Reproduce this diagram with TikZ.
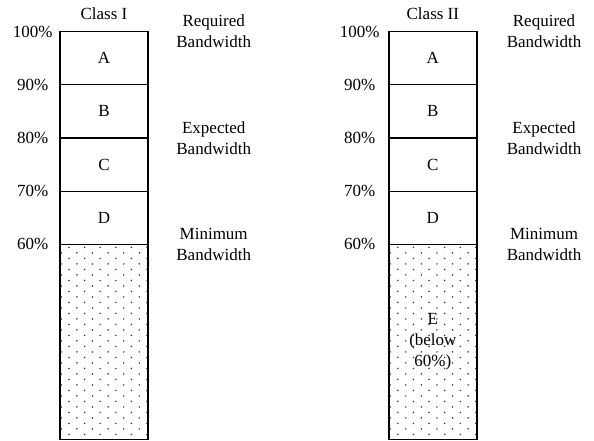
\documentclass[tikz,border=0pt]{standalone}
\usepackage{fontspec}
\setmainfont{Liberation Serif}
\usetikzlibrary{positioning, calc, backgrounds}
\newcommand{\bwfont}{\fontsize{17}{21}\selectfont}
\tikzset{
    seg/.style={
        rectangle,
        draw=black,
        line width=1.3pt,
        minimum width=88pt,
        minimum height=53.2pt,
        inner sep=0pt,
        outer sep=0pt,
        align=center,
        font=\bwfont
    },
    pct/.style={
        text width=44pt,
        align=center,
        inner sep=0pt,
        font=\bwfont
    },
    bw/.style={
        text width=80pt,
        align=center,
        inner sep=0pt,
        font=\bwfont
    },
    title/.style={
        inner sep=0pt,
        font=\bwfont
    },
    dot/.style={
        fill=black!80
    },
}
\begin{document}
\begin{tikzpicture}[x=1pt, y=-1pt]
\useasboundingbox (0,0) rectangle (594,441);

% Class I
\node[seg] (A1) at (104,58.2) {A};
\node[seg, below=0pt of A1] (B1) {B};
\node[seg, below=0pt of B1] (C1) {C};
\node[seg, below=0pt of C1] (D1) {D};
\node[seg, below=0pt of D1, minimum height=195.2pt] (E1) {};
\node[title, above=12pt of A1] (T1) {Class I};

\node[pct, left=5pt of A1.north west] (P100a) {100\%};
\node[pct, left=5pt of A1.south west] (P90a) {90\%};
\node[pct, left=5pt of B1.south west] (P80a) {80\%};
\node[pct, left=5pt of C1.south west] (P70a) {70\%};
\node[pct, left=5pt of D1.south west] (P60a) {60\%};

\node[bw, right=25.5pt of A1.north east] (R1) {Required\\Bandwidth};
\node[bw, right=25.5pt of B1.south east] (X1) {Expected\\Bandwidth};
\node[bw, right=25.5pt of D1.south east] (M1) {Minimum\\Bandwidth};

% Class II
\node[seg] (A2) at (432.85,58.2) {A};
\node[seg, below=0pt of A2] (B2) {B};
\node[seg, below=0pt of B2] (C2) {C};
\node[seg, below=0pt of C2] (D2) {D};
\node[seg, below=0pt of D2, minimum height=195.2pt] (E2) {E\\(below\\60\%)};
\node[title, above=12pt of A2] (T2) {Class II};

\node[pct, left=7pt of A2.north west] (P100b) {100\%};
\node[pct, left=7pt of A2.south west] (P90b) {90\%};
\node[pct, left=7pt of B2.south west] (P80b) {80\%};
\node[pct, left=7pt of C2.south west] (P70b) {70\%};
\node[pct, left=7pt of D2.south west] (P60b) {60\%};

\node[bw, right=27pt of A2.north east] (R2) {Required\\Bandwidth};
\node[bw, right=27pt of B2.south east] (X2) {Expected\\Bandwidth};
\node[bw, right=27pt of D2.south east] (M2) {Minimum\\Bandwidth};

% dotted fill below 60%
\begin{pgfonlayer}{background}
\foreach \bar in {E1,E2} {
    \begin{scope}
    \clip (\bar.south west) rectangle (\bar.north east);
    \foreach \r in {0,...,34} {
        \pgfmathsetmacro\xo{ifthenelse(mod(\r,2)==0,9,1.3)}
        \foreach \k in {0,...,5}
            \fill[dot] ($(\bar.north west)+(\xo+15.6*\k,3+5.5*\r)$) circle (0.85pt);
    }
    \end{scope}
}
\end{pgfonlayer}

\end{tikzpicture}
\end{document}
